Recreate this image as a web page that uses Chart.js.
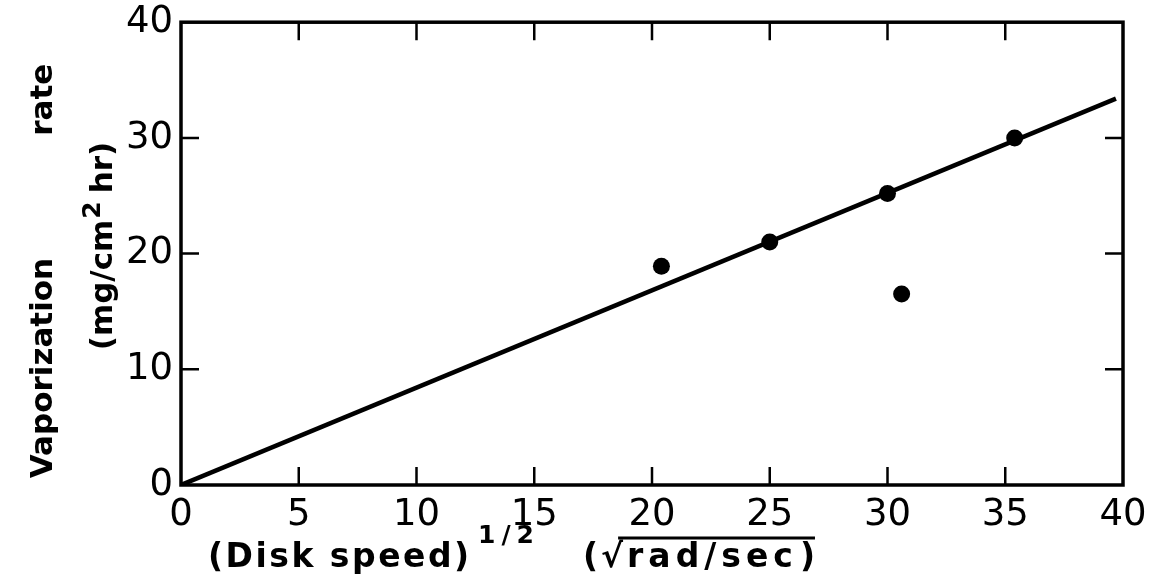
<!DOCTYPE html>
<html>
<head>
<meta charset="utf-8">
<script src="https://cdn.jsdelivr.net/npm/chart.js@4/dist/chart.umd.min.js"></script>
<style>
  html, body { margin: 0; padding: 0; background: #fff; }
  #wrap { width: 1152px; height: 583px; position: relative; }
</style>
</head>
<body>
<div id="wrap"><canvas id="c"></canvas></div>
<script>
// values
const xTicks = [0, 5, 10, 15, 20, 25, 30, 35, 40];
const yTicks = [0, 10, 20, 30, 40];
const diskSpeedRoot = [20.4, 25.0, 30.0, 30.6, 35.4];
const vaporRate = [18.9, 21.0, 25.2, 16.5, 30.0];
const fitX = [0, 39.7];
const fitY = [0, 33.4];

const INK = '#000';
const FONT = '"DejaVu Sans", sans-serif';

// frame + inward ticks on all four sides
const framePlugin = {
  id: 'frame',
  afterDatasetsDraw(chart) {
    const { ctx, chartArea: a, scales } = chart;
    ctx.save();
    ctx.strokeStyle = INK;
    ctx.lineWidth = 3.5;
    ctx.strokeRect(a.left, a.top, a.right - a.left, a.bottom - a.top);
    ctx.lineWidth = 2.5;
    const len = 18;
    ctx.beginPath();
    xTicks.slice(1, -1).forEach(v => {
      const px = scales.x.getPixelForValue(v);
      ctx.moveTo(px, a.bottom); ctx.lineTo(px, a.bottom - len);
      ctx.moveTo(px, a.top); ctx.lineTo(px, a.top + len);
    });
    yTicks.slice(1, -1).forEach(v => {
      const py = scales.y.getPixelForValue(v);
      ctx.moveTo(a.left, py); ctx.lineTo(a.left + len, py);
      ctx.moveTo(a.right, py); ctx.lineTo(a.right - len, py);
    });
    ctx.stroke();
    ctx.restore();
  }
};

// a run of text pieces, each with its own size / raise / spacing
function runWidth(ctx, pieces) {
  let w = 0;
  pieces.forEach(p => { ctx.font = p.font; ctx.letterSpacing = p.ls || '0px'; w += ctx.measureText(p.text).width + (p.gap || 0); });
  return w;
}
function drawRun(ctx, pieces, x, y) {
  const pos = [];
  pieces.forEach(p => {
    if (p.at !== undefined) x = p.at;
    ctx.font = p.font;
    ctx.letterSpacing = p.ls || '0px';
    ctx.fillText(p.text, x, y - (p.raise || 0));
    const w = ctx.measureText(p.text).width;
    pos.push({ x, w });
    x += w + (p.gap || 0);
  });
  return pos;
}

const titlePlugin = {
  id: 'titles',
  afterDraw(chart) {
    const { ctx } = chart;
    ctx.save();
    ctx.fillStyle = INK;
    ctx.strokeStyle = INK;
    ctx.textBaseline = 'alphabetic';
    ctx.textAlign = 'left';

    const xBig = 'bold 33px ' + FONT;
    const yBig = 'bold 31px ' + FONT;
    const sup = 'bold 25px ' + FONT;

    // x axis title
    const xPieces = [
      { text: '(Disk speed)', font: xBig, ls: '2.5px', at: 208 },
      { text: '1/2', font: sup, ls: '6px', raise: 24, at: 478 },
      { text: '(', font: xBig, at: 583, gap: 3 },
      { text: '\u221A', font: xBig, gap: 4 },
      { text: 'rad/sec', font: xBig, ls: '5px', gap: 2 },
      { text: ')', font: xBig }
    ];
    const pos = drawRun(ctx, xPieces, 208, 567);
    // vinculum of the root sign
    ctx.lineWidth = 3;
    ctx.beginPath();
    ctx.moveTo(pos[3].x + pos[3].w - 5, 538);
    ctx.lineTo(pos[5].x + pos[5].w, 538);
    ctx.stroke();

    // y axis title, two rotated lines
    const line1 = [
      { text: 'Vaporization', font: yBig, ls: '0px', gap: 122 },
      { text: 'rate', font: yBig, ls: '0px' }
    ];
    const line2 = [
      { text: '(mg/cm', font: yBig, ls: '0px', gap: 1 },
      { text: '2', font: sup, raise: 12, gap: 8 },
      { text: 'hr)', font: yBig, ls: '0px' }
    ];
    ctx.save();
    ctx.translate(52, 271);
    ctx.rotate(-Math.PI / 2);
    drawRun(ctx, line1, -runWidth(ctx, line1) / 2, 0);
    ctx.restore();
    ctx.save();
    ctx.translate(112, 246);
    ctx.rotate(-Math.PI / 2);
    drawRun(ctx, line2, -runWidth(ctx, line2) / 2, 0);
    ctx.restore();

    ctx.restore();
  }
};

new Chart(document.getElementById('c'), {
  type: 'scatter',
  data: {
    datasets: [
      {
        label: 'fit',
        data: fitX.map((x, i) => ({ x, y: fitY[i] })),
        showLine: true,
        borderColor: INK,
        borderWidth: 4.5,
        pointRadius: 0,
        order: 2
      },
      {
        label: 'measured',
        data: diskSpeedRoot.map((x, i) => ({ x, y: vaporRate[i] })),
        backgroundColor: INK,
        borderColor: INK,
        pointRadius: 8.5,
        pointBorderWidth: 0,
        order: 1
      }
    ]
  },
  options: {
    responsive: true,
    maintainAspectRatio: false,
    animation: false,
    layout: { padding: { top: 19, right: 29, left: 0, bottom: 0 } },
    plugins: { legend: { display: false }, tooltip: { enabled: false } },
    scales: {
      x: {
        type: 'linear',
        min: 0, max: 40,
        afterBuildTicks: s => { s.ticks = xTicks.map(v => ({ value: v })); },
        afterFit: s => { s.height = 98; },
        grid: { display: false },
        border: { display: false },
        ticks: { color: INK, font: { family: FONT, size: 37 }, padding: 0, maxRotation: 0 }
      },
      y: {
        type: 'linear',
        min: 0, max: 40,
        afterBuildTicks: s => { s.ticks = yTicks.map(v => ({ value: v })); },
        afterFit: s => { s.width = 181; },
        grid: { display: false },
        border: { display: false },
        ticks: { color: INK, font: { family: FONT, size: 37 }, padding: 0 }
      }
    }
  },
  plugins: [framePlugin, titlePlugin]
});
</script>
</body>
</html>
